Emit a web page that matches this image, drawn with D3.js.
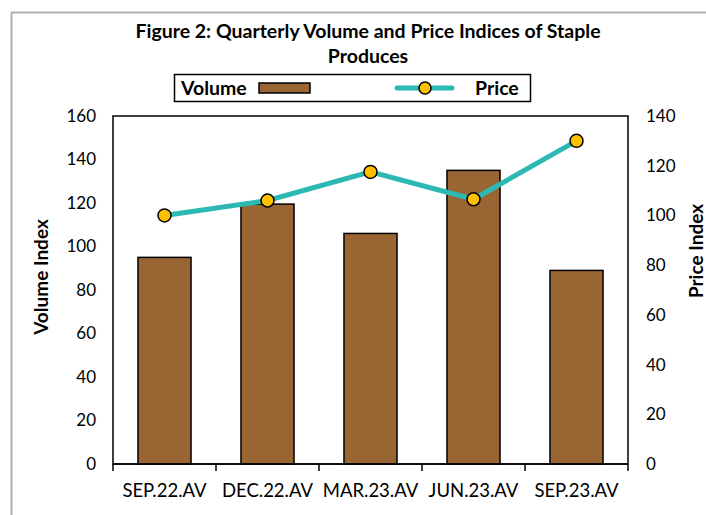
<!DOCTYPE html>
<html>
<head>
<meta charset="utf-8">
<script src="https://cdn.jsdelivr.net/npm/d3@7"></script>
<style>
  body { margin: 0; background: #fff; }
  svg { font-family: Lato, "Open Sans", sans-serif; }
  .tick text { fill: #000; }
</style>
</head>
<body>
<script>
var categories = ['SEP.22.AV', 'DEC.22.AV', 'MAR.23.AV', 'JUN.23.AV', 'SEP.23.AV'],
    volume = [95, 119.5, 106, 135, 89],
    price = [100, 106, 117.5, 106.5, 130],
    volumeTicks = [0, 20, 40, 60, 80, 100, 120, 140, 160],
    priceTicks = [0, 20, 40, 60, 80, 100, 120, 140];

var W = 706, H = 515,
    margin = { top: 116, right: 78, bottom: 51, left: 113 },
    width = W - margin.left - margin.right,
    height = H - margin.top - margin.bottom;

var svg = d3.select('body')
        .append('svg')
         .attr('width', W)
         .attr('height', H);

// outer frame (top + left edges only visible)
svg.append('line')
    .attr('x1', 11).attr('y1', 12.5).attr('x2', W).attr('y2', 12.5)
    .attr('stroke', '#b0b0b0').attr('stroke-width', 2);
svg.append('line')
    .attr('x1', 11.5).attr('y1', 12).attr('x2', 11.5).attr('y2', H)
    .attr('stroke', '#b0b0b0').attr('stroke-width', 2);

// title
svg.append('text')
    .attr('text-anchor', 'middle')
    .attr('font-weight', 'bold')
    .attr('font-size', 19.5)
    .selectAll('tspan')
    .data(['Figure 2: Quarterly Volume and Price Indices of Staple', 'Produces'])
    .enter().append('tspan')
     .attr('x', 368)
     .attr('y', function(d, i) { return 38 + i * 25; })
     .text(function(d) { return d; });

var g = svg.append('g')
        .attr('transform', 'translate(' + margin.left + ',' + margin.top + ')');

var x = d3.scaleBand()
        .domain(categories)
        .range([0, width])
        .padding(0);

var y = d3.scaleLinear()
        .domain([0, 160])
        .range([height, 0]);

var y2 = d3.scaleLinear()
        .domain([0, 140])
        .range([height, 0]);

// plot frame
g.append('rect')
    .attr('x', 0).attr('y', 0)
    .attr('width', width).attr('height', height)
    .attr('fill', 'none')
    .attr('stroke', '#000')
    .attr('stroke-width', 1.5);

var barW = x.bandwidth() * 0.515;

g.selectAll('rect.bar')
    .data(volume)
    .enter().append('rect')
     .attr('class', 'bar')
     .attr('x', function(d, i) { return x(categories[i]) + (x.bandwidth() - barW) / 2; })
     .attr('y', function(d) { return y(d); })
     .attr('width', barW)
     .attr('height', function(d) { return height - y(d); })
     .attr('fill', '#996633')
     .attr('stroke', '#000')
     .attr('stroke-width', 1.5);

// x axis with ticks at category boundaries
var xAxis = g.append('g')
        .attr('transform', 'translate(0,' + height + ')');
xAxis.append('line')
    .attr('x1', 0).attr('x2', width)
    .attr('stroke', '#000').attr('stroke-width', 1.5);
xAxis.selectAll('line.tk')
    .data(categories.concat(['end']))
    .enter().append('line')
     .attr('class', 'tk')
     .attr('x1', function(d, i) { return i * x.step(); })
     .attr('x2', function(d, i) { return i * x.step(); })
     .attr('y1', 0).attr('y2', 7)
     .attr('stroke', '#000').attr('stroke-width', 1.5);
xAxis.selectAll('text')
    .data(categories)
    .enter().append('text')
     .attr('x', function(d) { return x(d) + x.bandwidth() / 2; })
     .attr('y', 33)
     .attr('text-anchor', 'middle')
     .attr('font-size', 18.5)
     .attr('fill', '#000')
     .text(function(d) { return d; });

// left axis
var yAxis = d3.axisLeft(y)
        .tickValues(volumeTicks)
        .tickSize(0)
        .tickPadding(17);
g.append('g')
    .call(yAxis)
    .call(function(s) { s.select('.domain').remove(); })
    .selectAll('text')
     .attr('font-family', 'Lato, sans-serif')
     .attr('font-size', 17);

// right axis
var y2Axis = d3.axisRight(y2)
        .tickValues(priceTicks)
        .tickSize(0)
        .tickPadding(18);
g.append('g')
    .attr('transform', 'translate(' + width + ',0)')
    .call(y2Axis)
    .call(function(s) { s.select('.domain').remove(); })
    .selectAll('text')
     .attr('font-family', 'Lato, sans-serif')
     .attr('font-size', 17);

// price line
var line = d3.line()
        .x(function(d, i) { return x(categories[i]) + x.bandwidth() / 2; })
        .y(function(d) { return y2(d); });

g.append('path')
    .datum(price)
    .attr('d', line)
    .attr('fill', 'none')
    .attr('stroke', '#2cb9b4')
    .attr('stroke-width', 5);

g.selectAll('circle.pt')
    .data(price)
    .enter().append('circle')
     .attr('class', 'pt')
     .attr('cx', function(d, i) { return x(categories[i]) + x.bandwidth() / 2; })
     .attr('cy', function(d) { return y2(d); })
     .attr('r', 6.5)
     .attr('fill', '#ffc000')
     .attr('stroke', '#000')
     .attr('stroke-width', 1.5);

// axis titles
svg.append('text')
    .attr('transform', 'translate(48,277) rotate(-90)')
    .attr('text-anchor', 'middle')
    .attr('font-weight', 'bold')
    .attr('font-size', 19)
    .text('Volume Index');

svg.append('text')
    .attr('transform', 'translate(703,251) rotate(-90)')
    .attr('text-anchor', 'middle')
    .attr('font-weight', 'bold')
    .attr('font-size', 19)
    .text('Price Index');

// legend
var lg = svg.append('g');
lg.append('rect')
    .attr('x', 174.5).attr('y', 74.5)
    .attr('width', 356).attr('height', 27)
    .attr('fill', '#fff')
    .attr('stroke', '#000').attr('stroke-width', 1.5);
lg.append('text')
    .attr('x', 181).attr('y', 95)
    .attr('font-weight', 'bold').attr('font-size', 19.5)
    .text('Volume');
lg.append('rect')
    .attr('x', 259).attr('y', 83)
    .attr('width', 51).attr('height', 10)
    .attr('fill', '#996633')
    .attr('stroke', '#000').attr('stroke-width', 1.5);
lg.append('line')
    .attr('x1', 397).attr('x2', 452).attr('y1', 88).attr('y2', 88)
    .attr('stroke', '#2cb9b4').attr('stroke-width', 5)
    .attr('stroke-linecap', 'round');
lg.append('circle')
    .attr('cx', 425).attr('cy', 88).attr('r', 6)
    .attr('fill', '#ffc000')
    .attr('stroke', '#000').attr('stroke-width', 1.5);
lg.append('text')
    .attr('x', 475).attr('y', 95)
    .attr('font-weight', 'bold').attr('font-size', 19.5)
    .text('Price');
</script>
</body>
</html>
